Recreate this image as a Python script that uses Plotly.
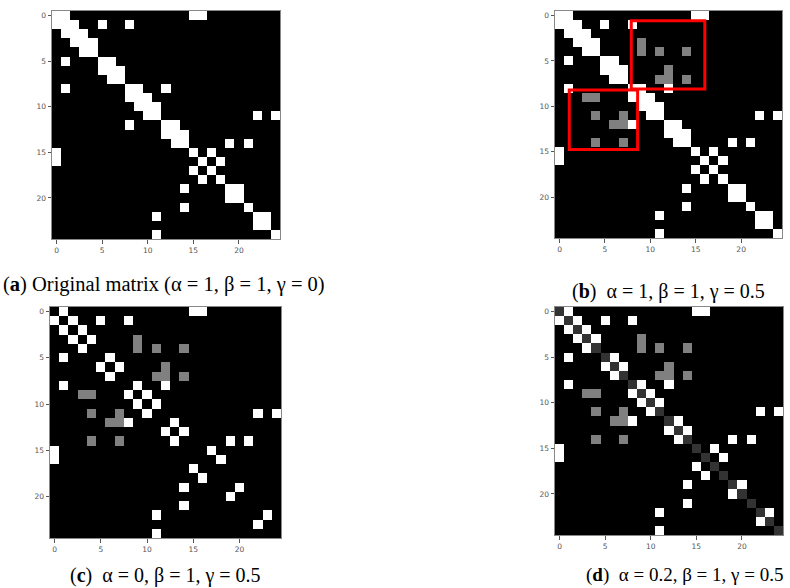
import plotly.graph_objects as go
import numpy as np

N = 25
# symmetric off-diagonal entries with value 1 (white)
white_edges = [(0, 1), (0, 15), (0, 16), (1, 2), (1, 5), (1, 8), (2, 3), (3, 4),
               (5, 6), (6, 7), (8, 9), (8, 12), (9, 10), (10, 11), (11, 22), (11, 24),
               (12, 13), (13, 14), (14, 19), (14, 21), (15, 17), (16, 18), (19, 20),
               (22, 23)]
# symmetric entries added with weight gamma (gray)
gray_edges = [(3, 9), (4, 9), (4, 11), (4, 14), (6, 12), (7, 11), (7, 12), (7, 14)]

panel_alpha = [1, 1, 0, 0.2]
panel_gamma = [0, 0.5, 0.5, 0.5]
captions = ["(<b>a</b>) Original matrix (α = 1, β = 1, γ = 0)",
            "(<b>b</b>)  α = 1, β = 1, γ = 0.5",
            "(<b>c</b>)  α = 0, β = 1, γ = 0.5",
            "(<b>d</b>)  α = 0.2, β = 1, γ = 0.5"]
tick_vals = [0, 5, 10, 15, 20]

# red highlight boxes on panel (b): (x0, x1, y0, y1) in cell units
box_x0 = [7.9, 1.07]
box_x1 = [16.0, 8.6]
box_y0 = [0.57, 8.2]
box_y1 = [8.1, 14.75]

W, H = 790, 588
# pixel boxes of the four panels (left, right, top, bottom)
pix = [(52, 280, 11, 239), (555, 782, 11, 238), (50, 281, 307, 538), (555, 783, 307, 535)]
cap_pos = [(164, 285, 20.5), (668, 291, 20), (165, 575, 20), (684, 575, 19)]


def build(alpha, gamma):
    m = np.zeros((N, N))
    for i, j in white_edges:
        m[i, j] = m[j, i] = 1
    for i, j in gray_edges:
        m[i, j] = m[j, i] = gamma
    for k in range(N):
        m[k, k] = alpha
    return m


fig = go.Figure()
for p in range(4):
    z = build(panel_alpha[p], panel_gamma[p])
    sfx = "" if p == 0 else str(p + 1)
    fig.add_trace(go.Heatmap(z=z, x=list(range(N)), y=list(range(N)),
                             colorscale=[[0, "black"], [1, "white"]], zmin=0, zmax=1,
                             showscale=False, hoverinfo="skip",
                             xaxis="x" + sfx, yaxis="y" + sfx))
    l, r, t, b = pix[p]
    ax = dict(domain=[l / W, r / W], range=[-0.5, N - 0.5], tickvals=tick_vals,
              ticks="outside", ticklen=3.5, tickcolor="#555", tickwidth=1,
              tickfont=dict(family="DejaVu Sans", size=7.5, color="#555"),
              showgrid=False, zeroline=False, showline=True, linecolor="#888",
              linewidth=1, mirror=True, anchor="y" + sfx, fixedrange=True)
    ay = dict(domain=[1 - b / H, 1 - t / H], range=[N - 0.5, -0.5], tickvals=tick_vals,
              ticks="outside", ticklen=3.5, tickcolor="#555", tickwidth=1,
              tickfont=dict(family="DejaVu Sans", size=7.5, color="#555"),
              showgrid=False, zeroline=False, showline=True, linecolor="#888",
              linewidth=1, mirror=True, anchor="x" + sfx, fixedrange=True)
    fig.update_layout(**{"xaxis" + sfx: ax, "yaxis" + sfx: ay})
    cx, cy, fs = cap_pos[p]
    fig.add_annotation(text=captions[p], x=cx / W, y=1 - cy / H, xref="paper", yref="paper",
                       xanchor="center", yanchor="middle", showarrow=False,
                       font=dict(family="Liberation Serif", size=fs, color="black"))

for k in range(len(box_x0)):
    fig.add_shape(type="rect", xref="x2", yref="y2", x0=box_x0[k], x1=box_x1[k],
                  y0=box_y0[k], y1=box_y1[k], line=dict(color="red", width=3),
                  fillcolor="rgba(0,0,0,0)")

fig.update_layout(width=W, height=H, margin=dict(l=0, r=0, t=0, b=0),
                  paper_bgcolor="white", plot_bgcolor="white", showlegend=False)
fig.write_html("out.html", config={"displayModeBar": False},
               post_script="document.body.style.margin='0';document.body.style.overflow='hidden';")
